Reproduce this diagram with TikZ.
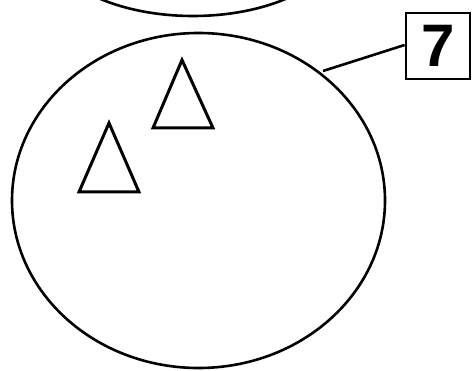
\documentclass[tikz,border=0pt]{standalone}
\usepackage{fontspec}
\setmainfont{Liberation Sans}
\begin{document}
\begin{tikzpicture}[x=1pt,y=-1pt,
  outline/.style={draw=black,line width=2.6pt},
  tri/.style={draw=black,line width=3pt,line join=miter},
  labelbox/.style={draw=black,line width=2.8pt,minimum width=64pt,minimum height=66pt,inner sep=0pt,font=\fontsize{60}{60}\selectfont\bfseries}]
\useasboundingbox (0,0) rectangle (473,371);
\begin{scope}
  \clip (0,0) rectangle (473,371);
  \draw[outline] (193,-64) ellipse [x radius=150, y radius=80];
\end{scope}
\draw[outline] (198.5,200.5) ellipse [x radius=186.5, y radius=167.5];
\coordinate (edge) at (323,71);
\node[labelbox] (seven) at (438,46) {7};
\draw[outline] (edge) -- (seven.west |- 0,45);
\draw[tri] (182,60) -- (213,128) -- (153,128) -- cycle;
\draw[tri] (109,123) -- (139,192) -- (79,192) -- cycle;
\end{tikzpicture}
\end{document}
